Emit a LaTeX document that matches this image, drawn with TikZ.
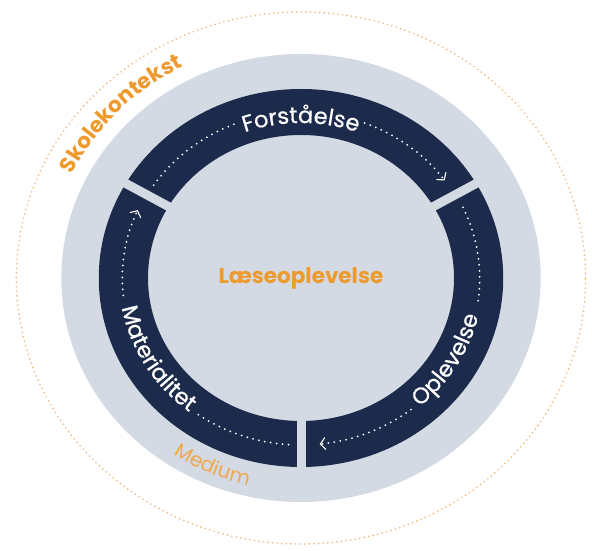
\documentclass[tikz,border=0pt]{standalone}
\usepackage{fontspec}
\setmainfont{Poppins}
\newfontfamily\labfont{Poppins}[LetterSpace=4, FakeBold=0.8]
\usetikzlibrary{decorations.text,arrows.meta}
\definecolor{navy}{HTML}{1C2B4B}
\definecolor{disk}{HTML}{D3DAE3}
\definecolor{orng}{HTML}{EE9A2C}
\definecolor{orngl}{HTML}{F0A84E}
\definecolor{peach}{HTML}{F1BC84}
\tikzset{
 dots/.style={white, line width=2pt, line cap=round, dash pattern=on 0pt off 6pt},
 tipdots/.style={dots, -{Straight Barb[length=5pt,width=12pt,line width=1.1pt]}},
 arctext/.style={decorate, decoration={text along path, text align=center, text={#1}}},
}
\begin{document}
\begin{tikzpicture}[x=1pt,y=1pt]
\useasboundingbox (0,0) rectangle (592,551);
\fill[white] (0,0) rectangle (592,551);
\begin{scope}[shift={(301,273)}, xscale=1.07]
\coordinate (C) at (0,0);
% outer dotted circle
\draw[peach, line width=1.9pt, line cap=round, dash pattern=on 0pt off 4.6pt] (C) circle[radius=266];
% grey disk
\fill[disk] (C) circle[radius=224];
% navy ring with three gaps
\fill[navy, even odd rule] (C) circle[radius=189] (C) circle[radius=143];
\foreach \a in {30,150,270} \draw[disk, line width=9pt] (\a:138) -- (\a:194);
% Forstaelse
\draw[dots] (146:166) arc[start angle=146, end angle=111, radius=166];
\draw[tipdots] (69:166) arc[start angle=69, end angle=36, radius=166];
\path[arctext={|\color{white}\labfont\fontsize{22.5}{26}\selectfont|Forståelse}] (150:155) arc[start angle=150, end angle=30, radius=155];
% Oplevelse
\draw[dots] (25:167) arc[start angle=25, end angle=-8, radius=167];
\draw[tipdots] (-52:167) arc[start angle=-52, end angle=-84, radius=167];
\path[arctext={|\color{white}\labfont\fontsize{22.5}{26}\selectfont|Oplevelse}] (-90:170) arc[start angle=-90, end angle=30, radius=170];
% Materialitet
\draw[dots] (266:167) arc[start angle=266, end angle=234, radius=167];
\draw[tipdots] (186:167) arc[start angle=186, end angle=156, radius=167];
\path[arctext={|\color{white}\labfont\fontsize{22.5}{26}\selectfont|Materialitet}] (150:170) arc[start angle=150, end angle=270, radius=170];
% outer labels
\path[arctext={|\color{orng}\bfseries\fontsize{21.5}{25}\selectfont|Skolekontekst}] (178.5:238) arc[start angle=178.5, end angle=94.5, radius=238];
\path[arctext={|\color{orngl}\fontsize{20}{24}\selectfont|Medium}] (216:213) arc[start angle=216, end angle=276, radius=213];
% centre
\node[text=orng, font=\bfseries\fontsize{21.5}{26}\selectfont] (center) at (C) {Læseoplevelse};
\end{scope}
\end{tikzpicture}
\end{document}
